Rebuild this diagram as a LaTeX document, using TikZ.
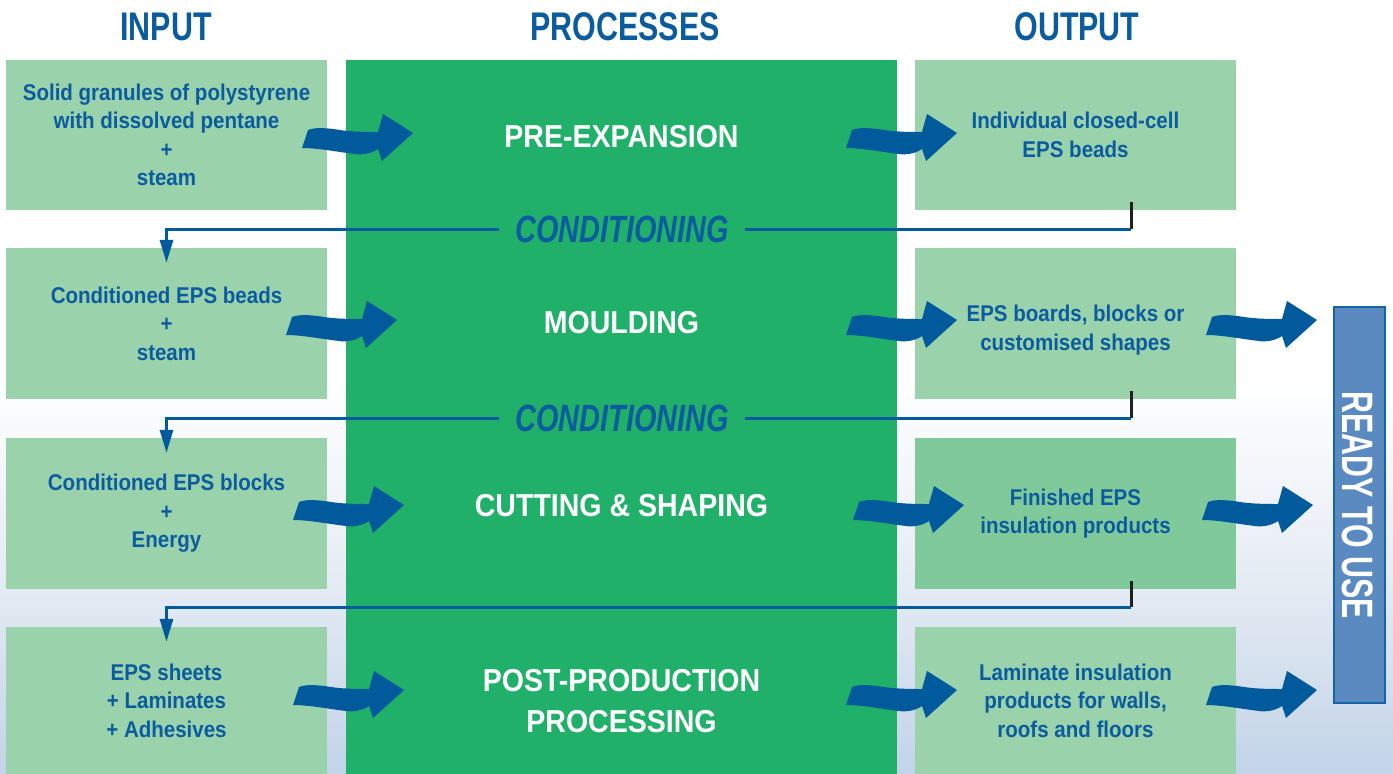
\documentclass[tikz,border=0pt]{standalone}
\usepackage{fontspec}
\setmainfont{Liberation Sans}
\newfontfamily\bodyf[FakeStretch=0.9]{Liberation Sans}
\newfontfamily\hdrf[FakeStretch=0.76]{Liberation Sans}
\newfontfamily\rdyf[FakeStretch=0.69]{Liberation Sans}
\usetikzlibrary{arrows.meta}
\definecolor{inboxc}{HTML}{9AD2AC}
\definecolor{outboxc}{HTML}{80C99A}
\definecolor{procg}{HTML}{21B06A}
\definecolor{tblue}{HTML}{0B5C9E}
\definecolor{ablue}{HTML}{005A9C}
\definecolor{rfill}{HTML}{5B8AC0}
\definecolor{rborder}{HTML}{1763A8}
\definecolor{sky}{HTML}{C2D3E8}
\definecolor{skymid}{HTML}{E6ECF4}
\definecolor{darkseg}{HTML}{231F20}
\begin{document}
\begin{tikzpicture}[x=1pt,y=-1pt,
  boxfont/.style={align=center, text=tblue, font=\bodyf\bfseries\fontsize{22.8}{28.5}\selectfont},
  box/.style={fill=inboxc, inner sep=0pt, minimum width=321pt, boxfont},
  head/.style={text=tblue, font=\hdrf\bfseries\fontsize{40}{40}\selectfont, inner sep=0pt},
  proctxt/.style={text=white, align=center, inner sep=0pt, font=\bodyf\bfseries\fontsize{31.7}{41}\selectfont},
  condlbl/.style={fill=procg, text=tblue, inner xsep=16pt, inner ysep=2pt,
    font=\hdrf\bfseries\itshape\fontsize{38}{38}\selectfont},
  conn/.style={draw=ablue, line width=3pt, -{Triangle[length=23pt,width=13pt]}},
  stub/.style={draw=darkseg, line width=3pt},
  wavy/.pic={\fill[ablue] (-105,-3) .. controls (-98,-6) and (-85,-5) .. (-73,-3)
     .. controls (-60,-1) and (-45,-1) .. (-35,-1) -- (-30,-19) -- (0,0) -- (-31,28) -- (-35,16)
     .. controls (-42,21) and (-52,22) .. (-58,21) .. controls (-75,19) and (-95,15) .. (-111,15) -- cycle;}
]
% background
\useasboundingbox (0,0) rectangle (1393,774);
\fill[white] (0,0) rectangle (1393,380);
\shade[top color=white, bottom color=sky, middle color=skymid] (0,380) rectangle (1393,774);

% headers
\node[head] (hin) at (166,27) {INPUT};
\node[head] (hproc) at (625,27) {PROCESSES};
\node[head] (hout) at (1077,27) {OUTPUT};

% process column
\node[fill=procg, minimum width=551pt, minimum height=714pt, inner sep=0pt] (proc) at (621.5,417) {};

% input boxes
\node[box, minimum height=150pt] (in1) at (166.5,135) {Solid granules of polystyrene\\with dissolved pentane\\+\\steam};
\node[box, minimum height=151pt] (in2) at (166.5,323.5) {Conditioned EPS beads\\+\\steam};
\node[box, minimum height=151pt] (in3) at (166.5,513.5) {Conditioned EPS blocks\\+\\Energy};
\node[box, minimum height=147pt] (in4) at (166.5,700.5) {EPS sheets\\+ Laminates\\+ Adhesives};

% output boxes
\node[box, minimum height=150pt] (out1) at (1075.5,135) {Individual closed-cell\\EPS beads};
\node[box, minimum height=151pt] (out2) at (1075.5,323.5) {};
\node[boxfont, inner sep=0pt] (out2t) at (1075.5,330) {EPS boards, blocks or\\customised shapes};
\node[box, fill=outboxc, minimum height=151pt] (out3) at (1075.5,513.5) {Finished EPS\\insulation products};
\node[box, minimum height=147pt] (out4) at (1075.5,700.5) {Laminate insulation\\products for walls,\\roofs and floors};

% process texts
\node[proctxt] (p1) at (621.5,137) {PRE-EXPANSION};
\node[proctxt] (p2) at (621.5,323) {MOULDING};
\node[proctxt] (p3) at (621.5,506) {CUTTING \& SHAPING};
\node[proctxt] (p4) at (621.5,701) {POST-PRODUCTION\\PROCESSING};

% ready to use
\node[fill=rfill, draw=rborder, line width=2pt, minimum width=51pt, minimum height=396pt, inner sep=0pt] (ready) at (1359.5,505) {};
\node[rotate=-90, text=white, inner sep=0pt, font=\rdyf\bfseries\fontsize{44}{44}\selectfont] (readytxt) at (1358,505) {READY TO USE};

% conditioning connectors
\coordinate (k1) at (1131,229);
\coordinate (k2) at (1131,418);
\coordinate (k3) at (1131,607);
\draw[stub] ([yshift=8pt]out1.south -| k1) -- (k1);
\draw[conn] (k1) -| ([yshift=-15pt]in2.north);
\node[condlbl] (c1) at (622,229) {CONDITIONING};
\draw[stub] ([yshift=8pt]out2.south -| k2) -- (k2);
\draw[conn] (k2) -| ([yshift=-15pt]in3.north);
\node[condlbl] (c2) at (622,418) {CONDITIONING};
\draw[stub] ([yshift=8pt]out3.south -| k3) -- (k3);
\draw[conn] (k3) -| ([yshift=-15pt]in4.north);

% wavy block arrows
\pic at (413,133) {wavy};
\pic at (957,133) {wavy};
\pic at (397,320) {wavy};
\pic at (957,320) {wavy};
\pic at (1317,320) {wavy};
\pic at (404,505) {wavy};
\pic at (964,505) {wavy};
\pic at (1313,505) {wavy};
\pic at (404,690) {wavy};
\pic at (957,690) {wavy};
\pic at (1317,690) {wavy};
\end{tikzpicture}
\end{document}
